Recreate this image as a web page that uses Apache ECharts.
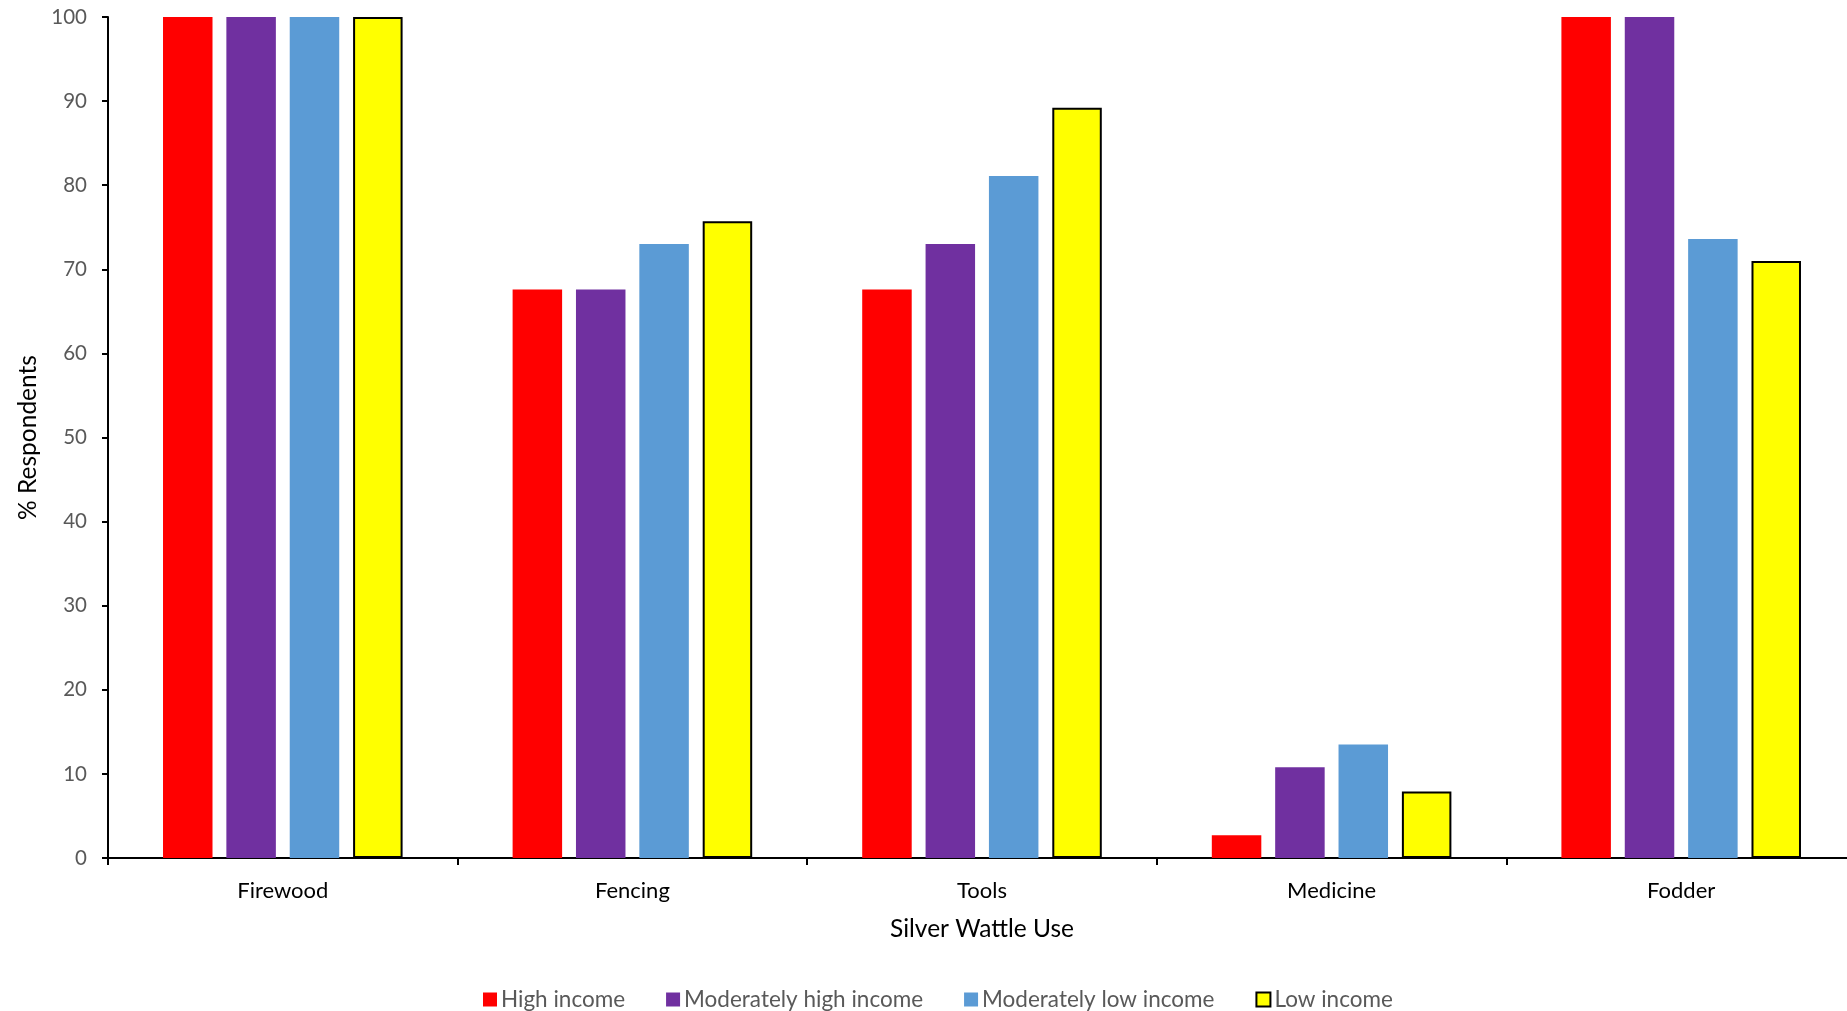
<!DOCTYPE html>
<html>
<head>
<meta charset="utf-8">
<script src="https://cdn.jsdelivr.net/npm/echarts@6/dist/echarts.min.js"></script>
<style>
html,body{margin:0;padding:0;background:#fff;}
#chart{width:1847px;height:1011px;}
</style>
</head>
<body>
<div id="chart"></div>
<script>
const categories = ['Firewood', 'Fencing', 'Tools', 'Medicine', 'Fodder'];
const seriesNames = ['High income', 'Moderately high income', 'Moderately low income', 'Low income'];
const highIncome = [100, 67.6, 67.6, 2.7, 100];
const modHighIncome = [100, 67.6, 73.0, 10.8, 100];
const modLowIncome = [100, 73.0, 81.1, 13.5, 73.6];
const lowIncome = [100, 75.7, 89.2, 7.9, 71.0];
const yTicks = [0, 10, 20, 30, 40, 50, 60, 70, 80, 90, 100];

const FONT = 'Lato';
const colors = ['#FF0000', '#7030A0', '#5B9BD5', '#FFFF00'];
const dataSets = [highIncome, modHighIncome, modLowIncome, lowIncome];

const chart = echarts.init(document.getElementById('chart'));
chart.setOption({
  animation: false,
  backgroundColor: '#ffffff',
  grid: {left: 108, width: 1748, top: 17, height: 841, containLabel: false, outerBoundsMode: 'none'},
  legend: {
    top: 983,
    left: 478,
    itemWidth: 14,
    itemHeight: 14,
    itemGap: 41,
    textStyle: {fontFamily: FONT, fontSize: 22.5, color: '#595959', padding: [0, 0, 0, -1]},
    data: seriesNames.map((n, i) => ({
      name: n,
      icon: 'rect',
      itemStyle: i === 3 ? {color: colors[i], borderColor: '#000', borderWidth: 2} : {color: colors[i], borderWidth: 0}
    }))
  },
  xAxis: {
    type: 'category',
    data: categories,
    name: 'Silver Wattle Use',
    nameLocation: 'middle',
    nameGap: 59,
    nameTextStyle: {fontFamily: FONT, fontSize: 24.5, color: '#000'},
    axisLine: {lineStyle: {color: '#000', width: 2}},
    axisTick: {show: true, length: 7, lineStyle: {color: '#000', width: 2}},
    axisLabel: {fontFamily: FONT, fontSize: 22, color: '#000', margin: 22}
  },
  yAxis: {
    type: 'value',
    min: 0,
    max: 100,
    interval: 10,
    name: '% Respondents',
    nameLocation: 'middle',
    nameGap: 65,
    nameTextStyle: {fontFamily: FONT, fontSize: 24.5, color: '#000'},
    axisLine: {show: true, lineStyle: {color: '#000', width: 2}},
    axisTick: {show: true, length: 6, lineStyle: {color: '#000', width: 2}},
    splitLine: {show: false},
    axisLabel: {
      fontFamily: FONT, fontSize: 20.5, color: '#595959', margin: 21,
      formatter: v => yTicks.includes(v) ? String(v) : ''
    }
  },
  series: dataSets.map((d, i) => ({
    name: seriesNames[i],
    type: 'bar',
    data: d,
    barWidth: 49.5,
    barGap: '28%',
    itemStyle: i === 3 ? {color: colors[i], borderColor: '#000', borderWidth: 2} : {color: colors[i]}
  }))
});
</script>
</body>
</html>
